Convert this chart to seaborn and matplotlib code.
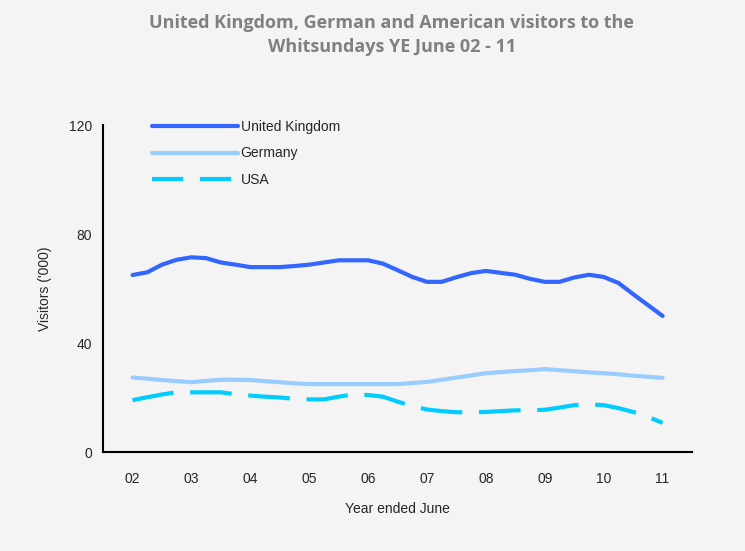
import numpy as np
import pandas as pd
import matplotlib
matplotlib.use("Agg")
import matplotlib.pyplot as plt
from matplotlib.lines import Line2D
import seaborn as sns

years = ["02", "03", "04", "05", "06", "07", "08", "09", "10", "11"]

uk = [65, 66, 68.8, 70.6, 71.5, 71.2, 69.6, 68.8, 67.9, 67.9, 67.9, 68.3, 68.8,
      69.6, 70.4, 70.4, 70.4, 69.2, 66.8, 64.3, 62.5, 62.5, 64.2, 65.7, 66.5,
      65.8, 65.1, 63.6, 62.5, 62.5, 64.1, 65.1, 64.3, 62.1, 58.0, 54.0, 50.0]
germany = [27.4, 27.0, 26.5, 26.1, 25.7, 26.2, 26.6, 26.6, 26.5, 26.1, 25.7, 25.3,
           25.0, 25.0, 25.0, 25.0, 25.0, 25.0, 25.0, 25.4, 25.8, 26.6, 27.4, 28.2,
           29.0, 29.4, 29.8, 30.1, 30.5, 30.1, 29.7, 29.3, 29.0, 28.6, 28.1, 27.7, 27.3]
usa = [19.1, 20.2, 21.2, 22.0, 22.0, 22.0, 22.0, 21.3, 20.8, 20.4, 20.1, 19.6, 19.4,
       19.4, 20.4, 21.2, 21.0, 20.4, 18.6, 17.0, 15.7, 15.1, 14.7, 14.6, 14.8, 15.1,
       15.4, 15.4, 15.6, 16.4, 17.3, 17.6, 17.3, 16.2, 14.8, 13.0, 10.8]
series_names = ["United Kingdom", "Germany", "USA"]

quarters = np.arange(len(uk)) / 4.0
df = pd.DataFrame({
    "x": np.concatenate([quarters] * 3),
    "value": uk + germany + usa,
    "series": np.repeat(series_names, len(uk)),
})

BG = "#f4f4f4"
colors = {"United Kingdom": "#3366ff", "Germany": "#99ccff", "USA": "#00ccff"}

sns.set_style("white")
plt.rcParams["font.family"] = ["Liberation Sans", "DejaVu Sans"]

fig = plt.figure(figsize=(7.45, 5.51), dpi=100, facecolor=BG)
ax = fig.add_axes([0.1383, 0.1791, 0.7906, 0.594])
ax.set_facecolor(BG)

sns.lineplot(data=df, x="x", y="value", hue="series", style="series",
             hue_order=series_names, style_order=series_names,
             palette=colors,
             dashes={"United Kingdom": "", "Germany": "", "USA": (10, 4)},
             legend=False, ax=ax)

for line in ax.lines:
    line.set_solid_capstyle("round")
    line.set_linewidth(3)
    line.set_dash_capstyle("butt")

ax.set_xlim(-0.5, 9.5)
ax.set_ylim(0, 120)
ax.set_yticks([0, 40, 80, 120])
ax.set_xticks(np.arange(-0.5, 10, 1))
ax.set_xticklabels([])
ax.set_xticks(np.arange(10), minor=True)
ax.set_xticklabels(years, minor=True)
ax.tick_params(axis="x", which="major", direction="out", length=5, width=1.5, color="black")
ax.tick_params(axis="x", which="minor", length=0, pad=14, labelsize=10)
ax.tick_params(axis="y", direction="out", length=5, width=1.5, color="black", labelsize=10, pad=3)

for s in ["top", "right"]:
    ax.spines[s].set_visible(False)
for s in ["left", "bottom"]:
    ax.spines[s].set_color("black")
    ax.spines[s].set_linewidth(1.5)

ax.set_xlabel("Year ended June", fontsize=10, labelpad=12)
ax.set_ylabel("Visitors ('000)", fontsize=10, labelpad=12)

handles = [
    Line2D([], [], color=colors["United Kingdom"], lw=3, solid_capstyle="round"),
    Line2D([], [], color=colors["Germany"], lw=3, solid_capstyle="round"),
    Line2D([], [], color=colors["USA"], lw=3, dashes=(7.5, 4)),
]
fig.legend(handles, series_names, loc="upper left", bbox_to_anchor=(0.187, 0.805),
           frameon=False, fontsize=10, handlelength=6.2, handletextpad=0.2,
           labelspacing=0.9)

fig.text(0.526, 0.974, "United Kingdom, German and American visitors to the\nWhitsundays YE June 02 - 11",
         ha="center", va="top", fontsize=13, fontweight="bold", color="#808080",
         family=["Open Sans", "DejaVu Sans"], linespacing=1.4)

fig.savefig("out.png", dpi=100, facecolor=BG)
